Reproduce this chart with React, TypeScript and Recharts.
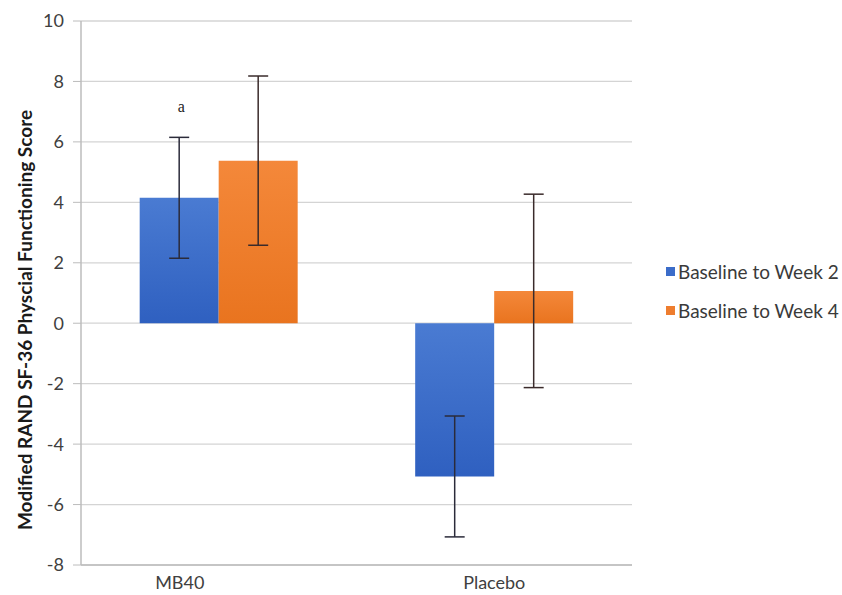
import { BarChart, Bar, XAxis, YAxis, CartesianGrid, ErrorBar, Legend, LabelList } from 'recharts'

const groups = ['MB40', 'Placebo']
const week2 = [4.15, -5.07]
const week2Err = [2.0, 2.0]
const week4 = [5.38, 1.07]
const week4Err = [2.8, 3.2]
const yTicks = [-8, -6, -4, -2, 0, 2, 4, 6, 8, 10]
const seriesNames = ['Baseline to Week 2', 'Baseline to Week 4']
const yTitle = 'Modified RAND SF-36  Physcial Functioning Score'

const rows = groups.map((g, i) => ({
  name: g,
  w2: week2[i],
  w2Err: week2Err[i],
  w4: week4[i],
  w4Err: week4Err[i],
}))

const FONT = 'Lato, "Open Sans", sans-serif'
const SWATCH = ['#3b6cc9', '#ee7d2f']

const LegendBox = () => (
  <div style={{ fontFamily: FONT, fontSize: 19, color: '#3a3a3a' }}>
    {seriesNames.map((n, i) => (
      <div key={n} style={{ display: 'flex', alignItems: 'center', height: 39 }}>
        <span style={{ width: 9, height: 9, background: SWATCH[i], marginRight: 3, display: 'inline-block' }} />
        {n}
      </div>
    ))}
  </div>
)

const CatTick = (props: any) => {
  const { x, y, payload, index } = props
  // the first label sits left of its bar pair in the original
  const dx = index === 0 ? -39 : 0
  return (
    <text x={x + dx} y={y + 16} textAnchor="middle" fontFamily={FONT} fontSize={18} fill="#404040">
      {payload.value}
    </text>
  )
}

const YTitle = () => (
  <text
    x={24}
    y={320}
    transform="rotate(-90 24 320)"
    textAnchor="middle"
    dominantBaseline="central"
    fontFamily={FONT}
    fontSize={19}
    fontWeight={700}
    fill="#1a1a1a"
  >
    {yTitle}
  </text>
)

export default function App() {
  return (
    <div style={{ position: 'absolute', left: 0, top: 0, background: '#fff' }}>
      <BarChart
        width={842}
        height={595}
        data={rows}
        margin={{ top: 21, right: 210, bottom: 0, left: 0 }}
        barCategoryGap="21.3%"
        barGap={0}
      >
        <defs>
          <linearGradient id="gBlue" x1="0" y1="0" x2="0" y2="1">
            <stop offset="0%" stopColor="#4a7bd2" />
            <stop offset="100%" stopColor="#2f60c0" />
          </linearGradient>
          <linearGradient id="gOrange" x1="0" y1="0" x2="0" y2="1">
            <stop offset="0%" stopColor="#f4883a" />
            <stop offset="100%" stopColor="#e9741f" />
          </linearGradient>
        </defs>
        <CartesianGrid vertical={false} stroke="#d4d4d4" strokeWidth={1.3} />
        <XAxis
          dataKey="name"
          height={30}
          tickLine={false}
          axisLine={{ stroke: '#bcbcbc', strokeWidth: 1.5 }}
          tick={<CatTick />}
        />
        <YAxis
          width={81}
          domain={[-8, 10]}
          ticks={yTicks}
          interval={0}
          tickSize={8}
          tickLine={{ stroke: '#bcbcbc' }}
          axisLine={{ stroke: '#bcbcbc', strokeWidth: 1.5 }}
          tick={{ fontFamily: FONT, fontSize: 18, fill: '#404040' }}
          tickMargin={9}
          label={<YTitle />}
        />
        <Legend
          layout="horizontal"
          align="center"
          verticalAlign="middle"
          wrapperStyle={{ left: 666, top: 252, width: 180 }}
          content={<LegendBox />}
        />
        <Bar dataKey="w2" name={seriesNames[0]} fill="url(#gBlue)" isAnimationActive={false}>
          <ErrorBar dataKey="w2Err" width={10} stroke="#2b2b3a" strokeWidth={1.5} />
          <LabelList
            dataKey="w2"
            content={(p: any) =>
              p.index === 0 ? (
                <text x={p.x + p.width / 2 + 2} y={p.y - 86} textAnchor="middle" fontFamily="'Liberation Serif', serif" fontSize={16} fill="#222">
                  a
                </text>
              ) : null
            }
          />
        </Bar>
        <Bar dataKey="w4" name={seriesNames[1]} fill="url(#gOrange)" isAnimationActive={false}>
          <ErrorBar dataKey="w4Err" width={10} stroke="#3a2b2b" strokeWidth={1.5} />
        </Bar>
      </BarChart>
    </div>
  )
}
